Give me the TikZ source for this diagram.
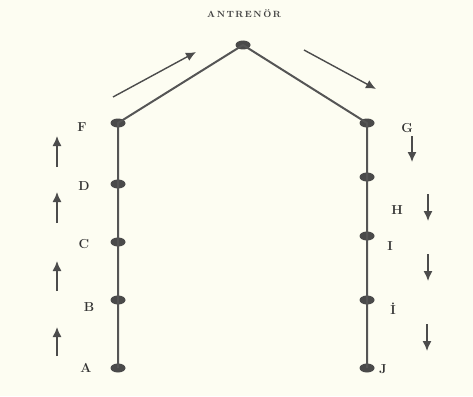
\documentclass[tikz,border=0pt]{standalone}
\usepackage{tikz}
\usetikzlibrary{shapes.geometric,arrows.meta}
\definecolor{paper}{HTML}{FDFDF2}
\definecolor{post}{HTML}{4A4A4A}
\definecolor{rail}{HTML}{555555}

\tikzset{
  cone/.style={ellipse,fill=post,minimum width=15pt,minimum height=9pt,inner sep=0pt},
  lab/.style={font=\fontsize{13}{15}\selectfont\bfseries,text=black!80},
  run/.style={-{Latex[length=10pt,width=9pt]},line width=1.4pt,black!70}
}

\begin{document}
\begin{tikzpicture}[x=1pt,y=-1pt]
  \fill[paper] (0,0) rectangle (473,396);
  \useasboundingbox (0,0) rectangle (473,396);
  % cones
  \node[cone] (top) at (243,45) {};
  \node[cone] (f) at (118,123) {};
  \node[cone] (d) at (118,184) {};
  \node[cone] (c) at (118,242) {};
  \node[cone] (b) at (118,300) {};
  \node[cone] (a) at (118,368) {};
  \node[cone] (g) at (367,123) {};
  \node[cone] (h) at (367,177) {};
  \node[cone] (i) at (367,236) {};
  \node[cone] (idot) at (367,300) {};
  \node[cone] (j) at (367,368) {};
  % rails
  \draw[rail,line width=2pt] (a.center) -- (f.center) -- (top.center) -- (g.center) -- (j.center);
  % labels
  \node[font=\fontsize{9}{10}\selectfont\bfseries,text=black!75] (trainer) at (244,14) {A\,N\,T\,R\,E\,N\,Ö\,R};
  \node[lab] (lf) at (82,127) {F};
  \node[lab] (ld) at (84,186) {D};
  \node[lab] (lc) at (84,244) {C};
  \node[lab] (lb) at (89,307) {B};
  \node[lab] (la) at (86,368) {A};
  \node[lab] (lg) at (407,128) {G};
  \node[lab] (lh) at (397,210) {H};
  \node[lab] (li) at (390,246) {I};
  \node[lab] (lidot) at (393,309) {İ};
  \node[lab] (lj) at (383,369) {J};
  % direction arrows
  \coordinate (u1s) at (57,167); \coordinate (u1e) at (57,136);
  \coordinate (u2s) at (57,223); \coordinate (u2e) at (57,192);
  \coordinate (u3s) at (57,291); \coordinate (u3e) at (57,261);
  \coordinate (u4s) at (57,356); \coordinate (u4e) at (57,327);
  \coordinate (d1s) at (412,136); \coordinate (d1e) at (412,162);
  \coordinate (d2s) at (428,194); \coordinate (d2e) at (428,221);
  \coordinate (d3s) at (428,254); \coordinate (d3e) at (428,281);
  \coordinate (d4s) at (427,324); \coordinate (d4e) at (427,351);
  \coordinate (ls) at (113,97); \coordinate (le) at (196,52);
  \coordinate (rs) at (304,50); \coordinate (re) at (376,89);
  \foreach \s/\e in {u1s/u1e,u2s/u2e,u3s/u3e,u4s/u4e,d1s/d1e,d2s/d2e,d3s/d3e,d4s/d4e,ls/le,rs/re}
    \draw[run] (\s) -- (\e);
\end{tikzpicture}
\end{document}
